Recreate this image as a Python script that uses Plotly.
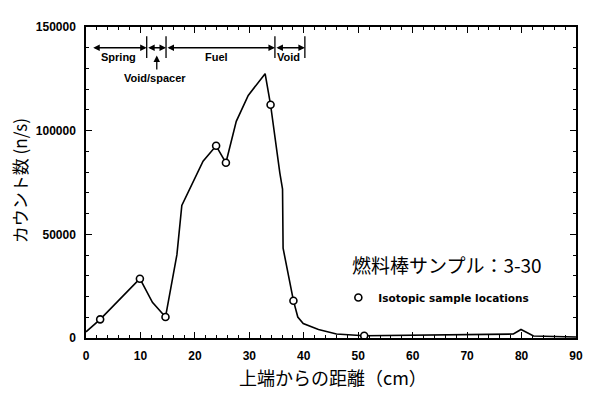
import plotly.graph_objects as go

# ---- data ----
dist_cm = [0, 2.6, 9.9, 12.2, 14.6, 16.7, 17.6, 21.5, 23.9, 25.7, 27.6, 29.8, 32.9,
           33.9, 35.6, 36.1, 36.2, 38.1, 38.9, 39.9, 42.7, 46.0, 51.1, 60.0, 70.0,
           78.5, 79.9, 82.2, 90.0]
counts = [3000, 9000, 28600, 17200, 10100, 40200, 63900, 85300, 92700, 84500, 104500,
          117000, 127500, 112500, 79700, 71800, 43300, 18000, 10100, 7000, 4100, 1900,
          1100, 1400, 1400, 1900, 4100, 950, 500]

sample_x = [2.6, 9.9, 14.6, 23.9, 25.7, 33.9, 38.1, 51.1]
sample_y = [9000, 28600, 10100, 92700, 84500, 112500, 18000, 1100]

# region annotations (start, end, label, label x)
regions = [
    (1.05, 11.15, "Spring", 5.9),
    (11.15, 14.7, "", None),
    (14.7, 34.7, "Fuel", 24.0),
    (34.7, 40.2, "Void", 37.2),
]
region_bars = [11.15, 14.7, 34.7, 40.2]
region_arrow_y = 140000
region_bar_y = (135000, 145500)
region_label_y = 135300
spacer_label = ("Void/spacer", 12.7, 125300)
spacer_arrow = (13.0, 128800, 136200)

x_ticks = [0, 10, 20, 30, 40, 50, 60, 70, 80, 90]
y_ticks = [0, 50000, 100000, 150000]

x_title = "上端からの距離（cm）"
y_title = "カウント数 (n/s)"
sample_title = "燃料棒サンプル：3-30"
legend_name = "Isotopic sample locations"

JP = "Noto Sans CJK JP"
EN = "Liberation Sans"

fig = go.Figure()
fig.add_trace(go.Scatter(x=dist_cm, y=counts, mode="lines",
                         line=dict(color="black", width=1.6), showlegend=False,
                         hoverinfo="skip"))
fig.add_trace(go.Scatter(x=sample_x, y=sample_y, mode="markers", name=legend_name,
                         marker=dict(symbol="circle", size=7, color="white",
                                     line=dict(color="black", width=1.6)),
                         showlegend=True))

annotations = []
shapes = []
for x0, x1, lab, lx in regions:
    annotations.append(dict(x=x1, y=region_arrow_y, ax=x0, ay=region_arrow_y,
                            xref="x", yref="y", axref="x", ayref="y", text="",
                            showarrow=True, arrowhead=2, arrowsize=1, arrowwidth=1.3,
                            arrowside="end+start", arrowcolor="black"))
    if lab:
        annotations.append(dict(x=lx, y=region_label_y, xref="x", yref="y", text=lab,
                                showarrow=False,
                                font=dict(family=EN, size=11, color="black", weight="bold")))
for bx in region_bars:
    shapes.append(dict(type="line", xref="x", yref="y", x0=bx, x1=bx,
                       y0=region_bar_y[0], y1=region_bar_y[1],
                       line=dict(color="black", width=1.3)))
annotations.append(dict(x=spacer_label[1], y=spacer_label[2], xref="x", yref="y",
                        text=spacer_label[0], showarrow=False,
                        font=dict(family=EN, size=11, color="black", weight="bold")))
annotations.append(dict(x=spacer_arrow[0], y=spacer_arrow[2], ax=spacer_arrow[0],
                        ay=spacer_arrow[1], xref="x", yref="y", axref="x", ayref="y",
                        text="", showarrow=True, arrowhead=2, arrowsize=1,
                        arrowwidth=1.3, arrowcolor="black"))
# titles
annotations.append(dict(x=-0.1355, y=0.506, xref="paper", yref="paper", text=y_title,
                        textangle=-90, showarrow=False, xanchor="center", yanchor="middle",
                        borderpad=0,
                        font=dict(family=JP, size=17, color="black")))
annotations.append(dict(x=0.504, y=-0.127, xref="paper", yref="paper", text=x_title,
                        showarrow=False, xanchor="center", yanchor="middle",
                        font=dict(family=JP, size=18, color="black")))
annotations.append(dict(x=66.3, y=35600, xref="x", yref="y", text=sample_title,
                        showarrow=False, xanchor="center", yanchor="middle",
                        font=dict(family=JP, size=19, color="black")))

axis_common = dict(showline=True, linecolor="black", linewidth=1.5, mirror="ticks",
                   ticks="inside", ticklen=6, tickwidth=1.3, tickcolor="black",
                   showgrid=False, zeroline=False,
                   tickfont=dict(family=EN, size=12, color="black", weight="bold"))

# the page body adds an 8px offset, margins compensate for it
fig.update_layout(
    width=598, height=394,
    margin=dict(l=78, r=30, t=14, b=64),
    paper_bgcolor="white", plot_bgcolor="white",
    xaxis=dict(range=[0, 90], tickvals=x_ticks, ticklabelstandoff=6,
               minor=dict(dtick=2, ticks="inside", ticklen=3, tickcolor="black",
                          tickwidth=1.2, showgrid=False),
               **axis_common),
    yaxis=dict(range=[0, 150000], tickvals=y_ticks, tickformat="d", ticklabelstandoff=6,
               minor=dict(dtick=10000, ticks="inside", ticklen=3, tickcolor="black",
                          tickwidth=1.2, showgrid=False),
               **axis_common),
    annotations=annotations, shapes=shapes,
    showlegend=True,
    legend=dict(x=0.515, y=0.13, xanchor="left", yanchor="middle",
                bgcolor="rgba(0,0,0,0)", borderwidth=0,
                font=dict(family="DejaVu Sans", size=10.5, color="black", weight="bold")),
)

fig.write_html("out.html")
